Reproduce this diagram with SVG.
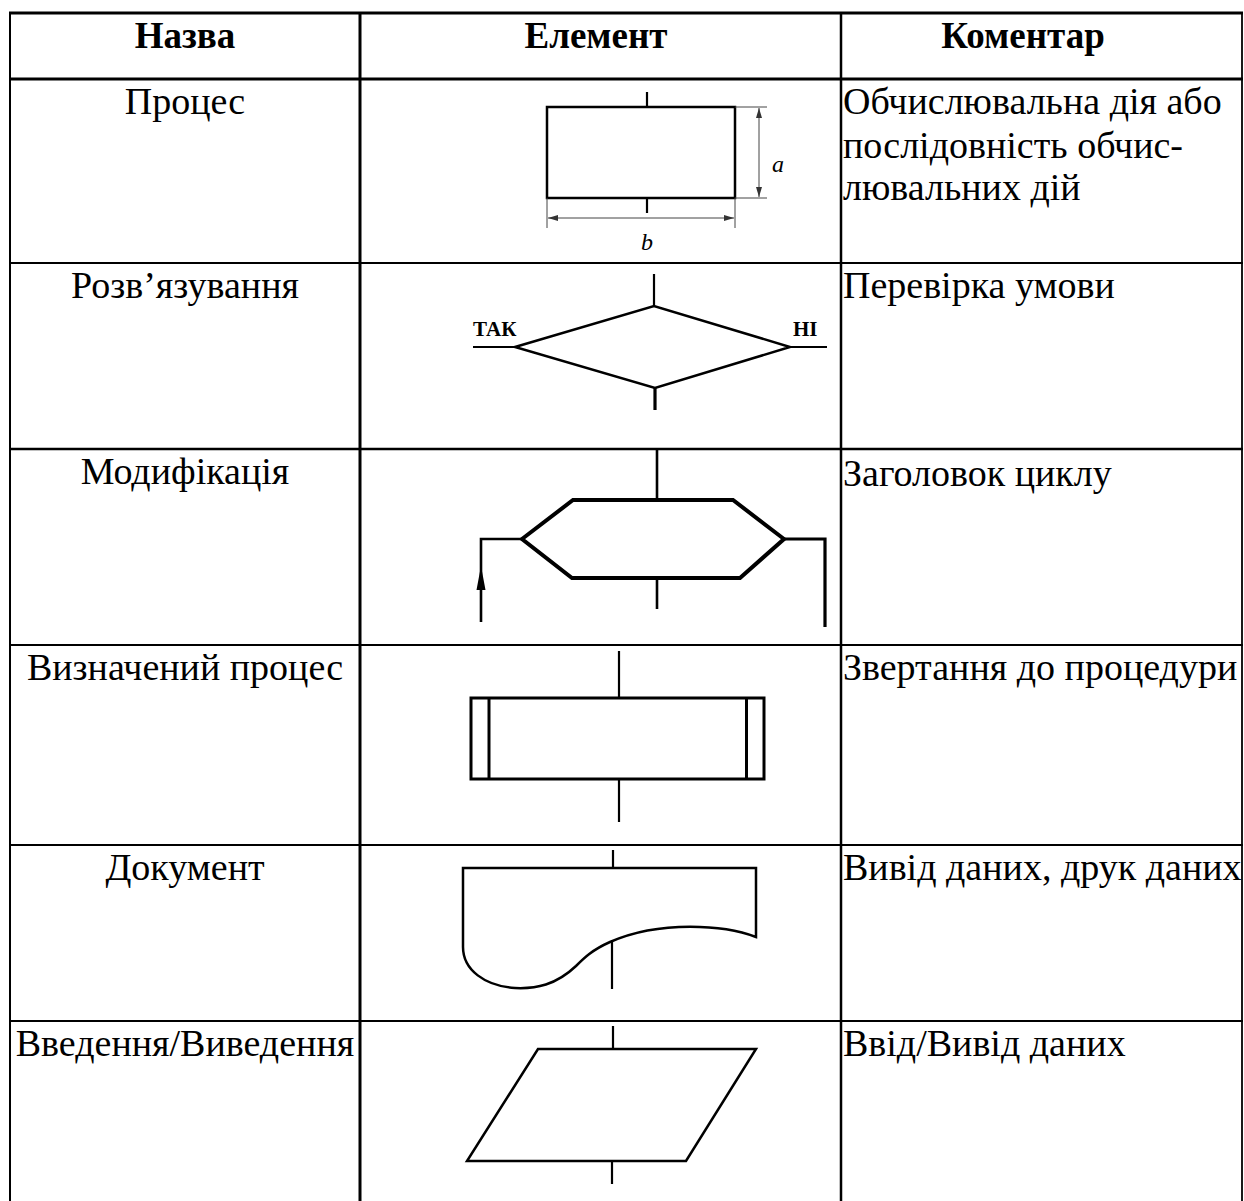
<svg xmlns="http://www.w3.org/2000/svg" width="1244" height="1201" viewBox="0 0 1244 1201">
  <defs>
    <marker id="dimArrow" viewBox="0 0 10 6" refX="10" refY="3" markerWidth="10" markerHeight="6" markerUnits="userSpaceOnUse" orient="auto-start-reverse">
      <path d="M0,0 L10,3 L0,6 Z" fill="#333"/>
    </marker>
    <style>
      .grid { stroke: #000; fill: none; }
      .head { font-family: "Liberation Serif", "Times New Roman", serif; font-weight: bold; font-size: 37px; fill: #000; text-anchor: middle; }
      .name { font-family: "Liberation Serif", "Times New Roman", serif; font-size: 38px; fill: #000; text-anchor: middle; }
      .note { font-family: "Liberation Serif", "Times New Roman", serif; font-size: 38px; fill: #000; }
      .shape { fill: none; stroke: #000; stroke-width: 2.5; stroke-linejoin: miter; }
      .flow { fill: none; stroke: #000; stroke-width: 2.2; }
      .dim { fill: none; stroke: #444; stroke-width: 1; }
      .dimtxt { font-family: "Liberation Serif", "Times New Roman", serif; font-style: italic; font-size: 24px; fill: #000; text-anchor: middle; }
      .branch { font-family: "Liberation Serif", "Times New Roman", serif; font-weight: bold; font-size: 21px; fill: #000; }
    </style>
  </defs>

  <rect width="1244" height="1201" fill="#fff"/>

  <!-- table grid -->
  <g id="table">
    <line class="grid" x1="9" y1="13" x2="1243" y2="13" stroke-width="3"/>
    <line class="grid" x1="9" y1="79" x2="1243" y2="79" stroke-width="3"/>
    <line class="grid" x1="9" y1="263" x2="1243" y2="263" stroke-width="2"/>
    <line class="grid" x1="9" y1="449" x2="1243" y2="449" stroke-width="2.5"/>
    <line class="grid" x1="9" y1="645" x2="1243" y2="645" stroke-width="2"/>
    <line class="grid" x1="9" y1="845" x2="1243" y2="845" stroke-width="2"/>
    <line class="grid" x1="9" y1="1021" x2="1243" y2="1021" stroke-width="2"/>
    <line class="grid" x1="10" y1="12" x2="10" y2="1201" stroke-width="2"/>
    <line class="grid" x1="360" y1="12" x2="360" y2="1201" stroke-width="3"/>
    <line class="grid" x1="841" y1="12" x2="841" y2="1201" stroke-width="2.5"/>
    <line class="grid" x1="1242" y1="12" x2="1242" y2="1201" stroke-width="1.8"/>
  </g>

  <!-- column headings -->
  <g id="headings">
    <text class="head" x="185" y="48">Назва</text>
    <text class="head" x="596" y="48">Елемент</text>
    <text class="head" x="1023" y="48">Коментар</text>
  </g>

  <!-- row 1: process -->
  <g id="row-process">
    <text class="name" x="185" y="114">Процес</text>
    <text class="note" x="843" y="114">Обчислювальна дія або</text>
    <text class="note" x="843" y="158">послідовність обчис-</text>
    <text class="note" x="843" y="200">лювальних дій</text>
  </g>
  <g id="node-process">
    <rect class="shape" x="547" y="107" width="188" height="91"/>
    <line class="flow" x1="647" y1="92" x2="647" y2="107"/>
    <line class="flow" x1="647" y1="198" x2="647" y2="213"/>
    <!-- dimension a -->
    <line class="dim" x1="735" y1="107" x2="767" y2="107"/>
    <line class="dim" x1="735" y1="198" x2="767" y2="198"/>
    <line class="dim" x1="759" y1="108" x2="759" y2="197" marker-start="url(#dimArrow)" marker-end="url(#dimArrow)"/>
    <text class="dimtxt" x="778" y="172">a</text>
    <!-- dimension b -->
    <line class="dim" x1="547" y1="198" x2="547" y2="228"/>
    <line class="dim" x1="735" y1="198" x2="735" y2="228"/>
    <line class="dim" x1="548" y1="218" x2="734" y2="218" marker-start="url(#dimArrow)" marker-end="url(#dimArrow)"/>
    <text class="dimtxt" x="647" y="250">b</text>
  </g>

  <!-- row 2: decision -->
  <g id="row-decision">
    <text class="name" x="185" y="298">Розв’язування</text>
    <text class="note" x="843" y="298">Перевірка умови</text>
  </g>
  <g id="node-decision">
    <polygon class="shape" points="515,347 654,306 790,347 655,388"/>
    <line class="flow" x1="654" y1="274" x2="654" y2="306"/>
    <line class="flow" x1="655" y1="388" x2="655" y2="410" style="stroke-width:3.2"/>
    <line class="flow" x1="473" y1="347" x2="515" y2="347"/>
    <line class="flow" x1="790" y1="347" x2="827" y2="347"/>
    <text class="branch" x="473" y="336">ТАК</text>
    <text class="branch" x="793" y="336">НІ</text>
  </g>

  <!-- row 3: loop modification -->
  <g id="row-modification">
    <text class="name" x="185" y="484">Модифікація</text>
    <text class="note" x="843" y="486">Заголовок циклу</text>
  </g>
  <g id="node-modification">
    <polygon class="shape" points="522,539 573,500 733,500 784,539 740,578 572,578" style="stroke-width:4"/>
    <line class="flow" x1="657" y1="449" x2="657" y2="500" style="stroke-width:2.6"/>
    <line class="flow" x1="657" y1="578" x2="657" y2="609" style="stroke-width:2.6"/>
  </g>
  <g id="connectors">
    <polyline class="flow" points="522,539 481,539 481,622" style="stroke-width:2.6"/>
    <polygon points="481,566 476.5,590 485.5,590" fill="#000"/>
    <polyline class="flow" points="784,539 825,539 825,627" style="stroke-width:3.2"/>
  </g>

  <!-- row 4: predefined process -->
  <g id="row-predefined">
    <text class="name" x="185" y="680">Визначений процес</text>
    <text class="note" x="843" y="680">Звертання до процедури</text>
  </g>
  <g id="node-predefined">
    <rect class="shape" x="471" y="698" width="293" height="81" style="stroke-width:3"/>
    <line class="shape" x1="489" y1="698" x2="489" y2="779" style="stroke-width:3"/>
    <line class="shape" x1="746.5" y1="698" x2="746.5" y2="779" style="stroke-width:3"/>
    <line class="flow" x1="619" y1="651" x2="619" y2="698"/>
    <line class="flow" x1="619" y1="779" x2="619" y2="822"/>
  </g>

  <!-- row 5: document -->
  <g id="row-document">
    <text class="name" x="185" y="880">Документ</text>
    <text class="note" x="843" y="880">Вивід даних, друк даних</text>
  </g>
  <g id="node-document">
    <path class="shape" d="M463,868 H756 V937 C725,925 660,920 610,942 C592,950 584,958 576,966 C556,985 536,989 515,988 C485,986 463,970 463,947 Z"/>
    <line class="flow" x1="613" y1="850" x2="613" y2="868"/>
    <line class="flow" x1="612" y1="941" x2="612" y2="989"/>
  </g>

  <!-- row 6: input/output -->
  <g id="row-io">
    <text class="name" x="185" y="1056">Введення/Виведення</text>
    <text class="note" x="843" y="1056">Ввід/Вивід даних</text>
  </g>
  <g id="node-io">
    <polygon class="shape" points="538,1049 756,1049 686,1161 467,1161"/>
    <line class="flow" x1="613" y1="1026" x2="613" y2="1049"/>
    <line class="flow" x1="612" y1="1161" x2="612" y2="1184"/>
  </g>
</svg>
